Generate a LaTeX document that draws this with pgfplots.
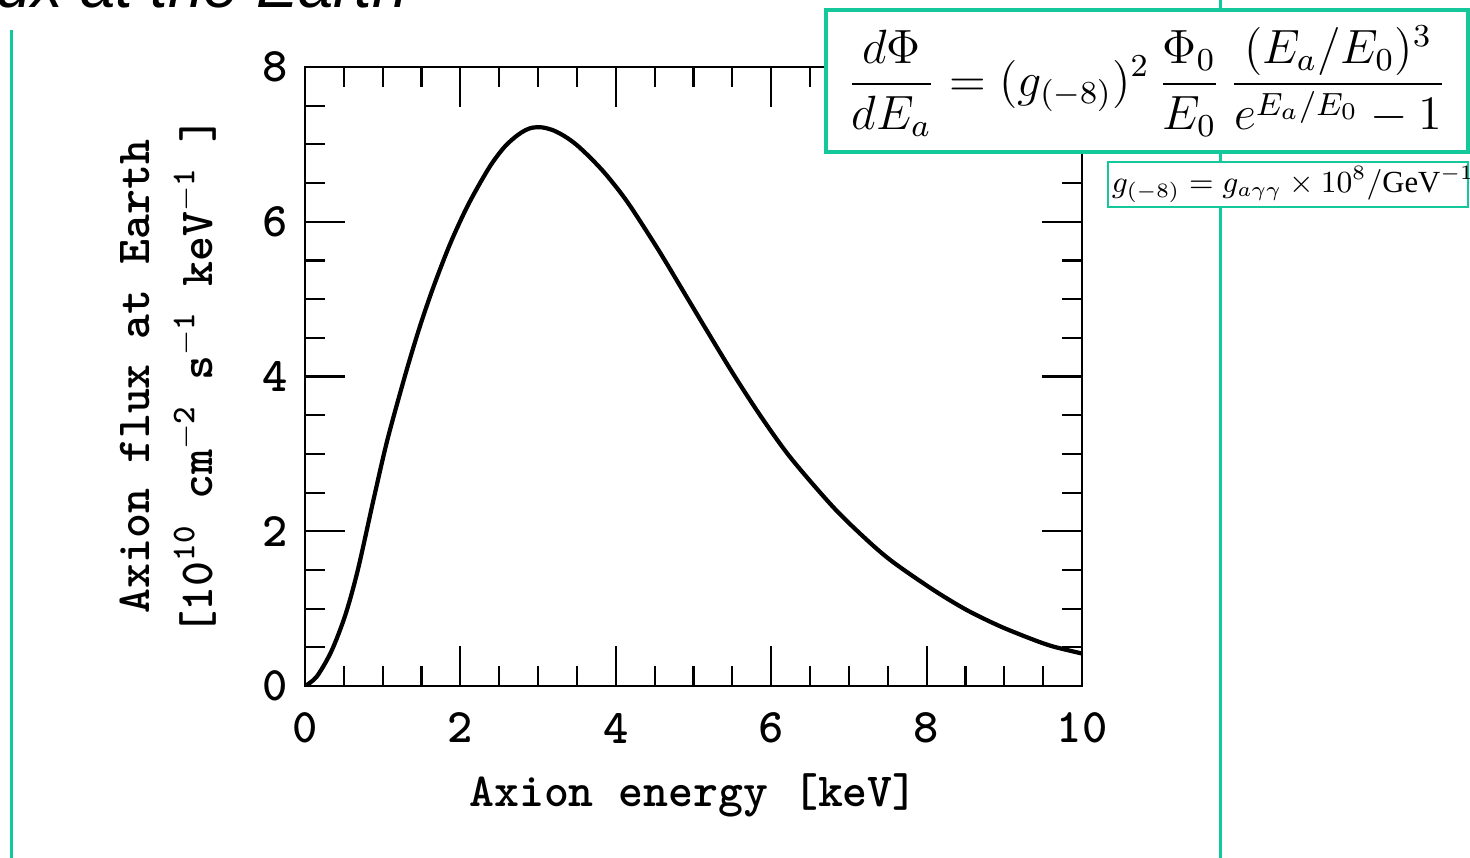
\documentclass[border=0pt]{standalone}
\usepackage{fontspec}
\setmainfont{Liberation Serif}
\newfontfamily\slidefont{Liberation Sans}
\usepackage{pgfplots}
\pgfplotsset{compat=1.18}
\definecolor{slidegreen}{RGB}{20,200,155}

\begin{document}
\begin{tikzpicture}
\useasboundingbox (-3.05,-1.71) rectangle (11.65,6.86);
\clip (-3.05,-1.71) rectangle (11.65,6.86);
% slide decorations
\draw[slidegreen, line width=0.3mm] (-2.93,6.56) -- (-2.93,-1.8);
\draw[slidegreen, line width=0.3mm] (9.15,7) -- (9.15,-1.8);
\node[anchor=base east, font=\slidefont\itshape\fontsize{18}{20}\selectfont] at (1.15,6.78) {Axion flux at the Earth};

\begin{axis}[
  at={(0,0)}, anchor=south west,
  width=7.77cm, height=6.19cm, scale only axis,
  xmin=0, xmax=10, ymin=0, ymax=8,
  xtick={0,2,...,10}, ytick={0,2,...,8},
  minor tick num=3,
  major tick length=4mm, minor tick length=2mm,
  every tick/.style={black, line width=0.6pt},
  axis line style={line width=0.7pt},
  tick label style={font=\fontsize{13.7}{16}\selectfont\ttfamily\bfseries},
  /pgf/number format/assume math mode=true,
  xticklabel style={anchor=center, yshift=-4.2mm},
  yticklabel style={anchor=center, xshift=-3mm},
  label style={font=\fontsize{13.5}{18}\selectfont\ttfamily\bfseries, align=center},
  xlabel={Axion energy [keV]},
  ylabel={Axion flux at Earth\\ {[}10\textsuperscript{10} cm\textsuperscript{$-$2} s\textsuperscript{$-$1} keV\textsuperscript{$-$1} {]}},
  xlabel style={at={(axis description cs:0.5,-0.176)}, anchor=center},
  ylabel style={at={(axis description cs:-0.176,0.5)}, anchor=center},
]
\addplot[black, line width=1.2pt, smooth] coordinates {
(0,0) (0.15,0.12) (0.34,0.45) (0.52,0.92) (0.68,1.50) (0.88,2.40)
(1.06,3.18) (1.29,4.02) (1.47,4.62) (1.65,5.15) (1.87,5.72) (2.10,6.22)
(2.37,6.70) (2.57,6.97) (2.75,7.13) (2.90,7.21) (3.05,7.22) (3.20,7.18)
(3.35,7.10) (3.50,6.99) (3.70,6.80) (3.90,6.58)
(4.16,6.24) (4.54,5.65) (4.84,5.15) (5.18,4.58) (5.52,4.02)
(5.87,3.48) (6.25,2.95) (6.80,2.31) (7.24,1.88) (7.57,1.60) (8.09,1.24)
(8.52,0.98) (8.95,0.77) (9.37,0.60) (9.63,0.51) (10.0,0.42)
};
\end{axis}

% formula boxes
\filldraw[fill=white, draw=slidegreen, line width=1pt] (5.21,5.34) rectangle (11.63,6.76);
\node[font=\large, scale=1.14, transform shape] at (8.42,6.05)
  {$\displaystyle \frac{d\Phi}{dE_a} = (g_{(-8)})^2\,\frac{\Phi_0}{E_0}\,\frac{(E_a/E_0)^3}{e^{E_a/E_0}-1}$};
\filldraw[fill=white, draw=slidegreen, line width=0.8pt] (8.03,4.79) rectangle (11.63,5.24);
\node[font=\small, scale=0.97, transform shape] at (9.88,5.015)
  {$g_{(-8)} = g_{a\gamma\gamma}\times 10^8/\mathrm{GeV}^{-1}$};
\end{tikzpicture}
\end{document}
